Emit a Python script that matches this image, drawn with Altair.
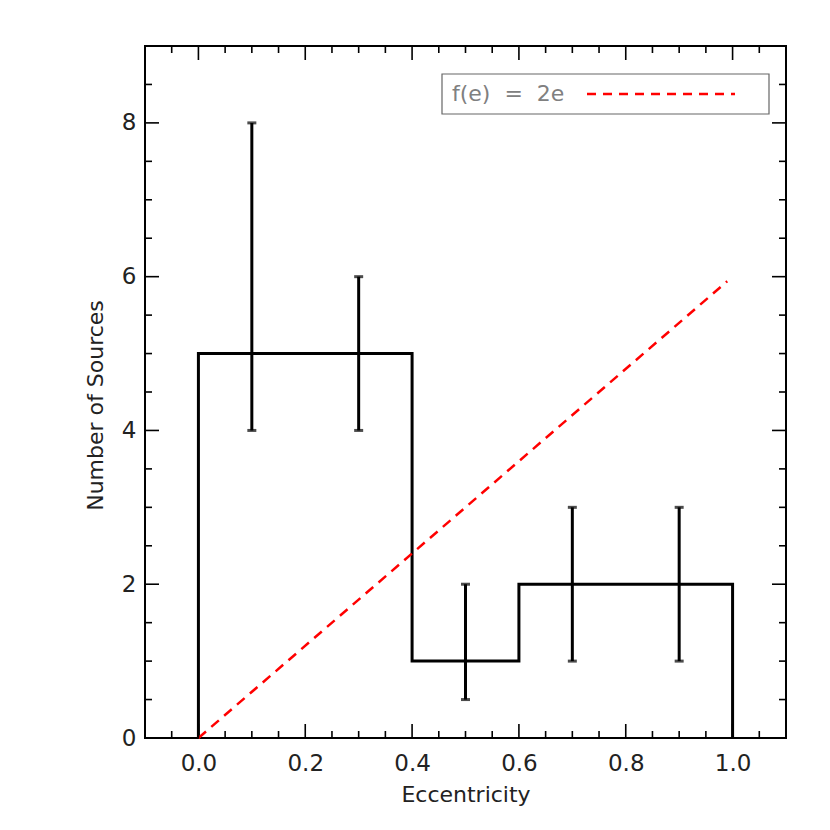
import altair as alt
import pandas as pd

# ---- data ----
bin_edges = [0.0, 0.2, 0.4, 0.6, 0.8, 1.0]
counts = [5, 5, 1, 2, 2]
err_x = [0.1, 0.3, 0.5, 0.7, 0.9]
err_lo = [4, 4, 0.5, 1, 1]
err_hi = [8, 6, 2, 3, 3]
model_e = [0.0, 0.99]
model_f = [0.0, 5.94]
legend_label = "f(e)\u00a0\u00a0=\u00a0\u00a02e"

x_major = [0.0, 0.2, 0.4, 0.6, 0.8, 1.0]
x_minor = [-0.05, 0.05, 0.1, 0.15, 0.25, 0.3, 0.35, 0.45, 0.5, 0.55,
           0.65, 0.7, 0.75, 0.85, 0.9, 0.95, 1.05]
y_major = [0, 2, 4, 6, 8]
y_minor = [0.5, 1, 1.5, 2.5, 3, 3.5, 4.5, 5, 5.5, 6.5, 7, 7.5, 8.5]

W, H = 641, 692
FONT = "DejaVu Sans"
TXT = "#222222"

xscale = alt.Scale(domain=[-0.1, 1.1], nice=False, zero=False)
yscale = alt.Scale(domain=[0, 9], nice=False, zero=False)

xaxis = alt.Axis(values=x_major, format=".1f", ticks=False, domain=False, grid=False,
                 labelPadding=14, labelFontSize=23, labelFont=FONT, labelColor=TXT,
                 labelFontWeight="normal",
                 title="Eccentricity", titleFontSize=22, titleFont=FONT,
                 titleFontWeight="normal", titleColor=TXT, titlePadding=9)
yaxis = alt.Axis(values=y_major, format="d", ticks=False, domain=False, grid=False,
                 labelPadding=9, labelFontSize=23, labelFont=FONT, labelColor=TXT,
                 labelFontWeight="normal",
                 title="Number\u00a0of\u00a0Sources", titleFontSize=22, titleFont=FONT,
                 titleFontWeight="normal", titleColor=TXT, titlePadding=14, titleY=359)


def X(f):
    return alt.X(f, scale=xscale, axis=xaxis)


def Y(f):
    return alt.Y(f, scale=yscale, axis=yaxis)


# step outline of the histogram
sx, sy = [bin_edges[0]], [0]
for i, c in enumerate(counts):
    sx += [bin_edges[i], bin_edges[i + 1]]
    sy += [c, c]
sx.append(bin_edges[-1])
sy.append(0)
step_df = pd.DataFrame({"e": sx, "n": sy, "i": list(range(len(sx)))})

err_df = pd.DataFrame({"e": err_x, "lo": err_lo, "hi": err_hi})
model_df = pd.DataFrame({"e": model_e, "f": model_f})

hist = alt.Chart(step_df).mark_line(color="black", strokeWidth=3, strokeJoin="miter").encode(
    x=X("e:Q"), y=Y("n:Q"), order="i:Q",
)

err_base = alt.Chart(err_df)
err_rule = err_base.mark_rule(color="black", strokeWidth=3).encode(
    x=X("e:Q"), y=Y("lo:Q"), y2="hi:Q",
)
cap_lo = err_base.mark_tick(color="black", orient="horizontal", size=9, thickness=3).encode(
    x=X("e:Q"), y=Y("lo:Q"),
)
cap_hi = err_base.mark_tick(color="black", orient="horizontal", size=9, thickness=3).encode(
    x=X("e:Q"), y=Y("hi:Q"),
)

model = alt.Chart(model_df).mark_line(color="#ff0000", strokeWidth=2.5, strokeDash=[10, 7]).encode(
    x=X("e:Q"), y=Y("f:Q"),
)


def xticks(vals, length, top):
    d = pd.DataFrame({"v": vals})
    y0 = 0 if top else H
    y1 = length if top else H - length
    return alt.Chart(d).mark_rule(color="black", strokeWidth=1.6).encode(
        x=X("v:Q"), y=alt.value(y0), y2=alt.value(y1))


def yticks(vals, length, right):
    d = pd.DataFrame({"v": vals})
    x0 = W if right else 0
    x1 = W - length if right else length
    return alt.Chart(d).mark_rule(color="black", strokeWidth=1.6).encode(
        y=Y("v:Q"), x=alt.value(x0), x2=alt.value(x1))


ticks = [
    xticks(x_major, 14, False), xticks(x_minor, 7, False),
    xticks(x_major, 14, True), xticks(x_minor, 7, True),
    yticks(y_major, 14, False), yticks(y_minor, 7, False),
    yticks(y_major, 14, True), yticks(y_minor, 7, True),
]

one = pd.DataFrame({"t": [legend_label]})
leg_box = alt.Chart(one).mark_rect(fill="white", stroke="#666666", strokeWidth=1.2).encode(
    x=alt.value(297), x2=alt.value(624), y=alt.value(28), y2=alt.value(68))
leg_text = alt.Chart(one).mark_text(align="left", baseline="middle", font=FONT, fontSize=22,
                                    color="#808080").encode(
    x=alt.value(307), y=alt.value(48), text="t:N")
leg_line = alt.Chart(one).mark_rule(color="#ff0000", strokeWidth=2.5, strokeDash=[9, 7]).encode(
    x=alt.value(442), x2=alt.value(590), y=alt.value(48))

chart = alt.layer(
    hist, err_rule, cap_lo, cap_hi, model, *ticks, leg_box, leg_text, leg_line
).properties(
    width=W, height=H,
    autosize=alt.AutoSizeParams(type="none"),
    padding={"left": 137, "top": 38, "right": 36, "bottom": 85},
).configure_view(
    stroke="black", strokeWidth=2
).configure_axis(grid=False)

chart.save("out.html", embed_options={"renderer": "svg", "actions": False})
